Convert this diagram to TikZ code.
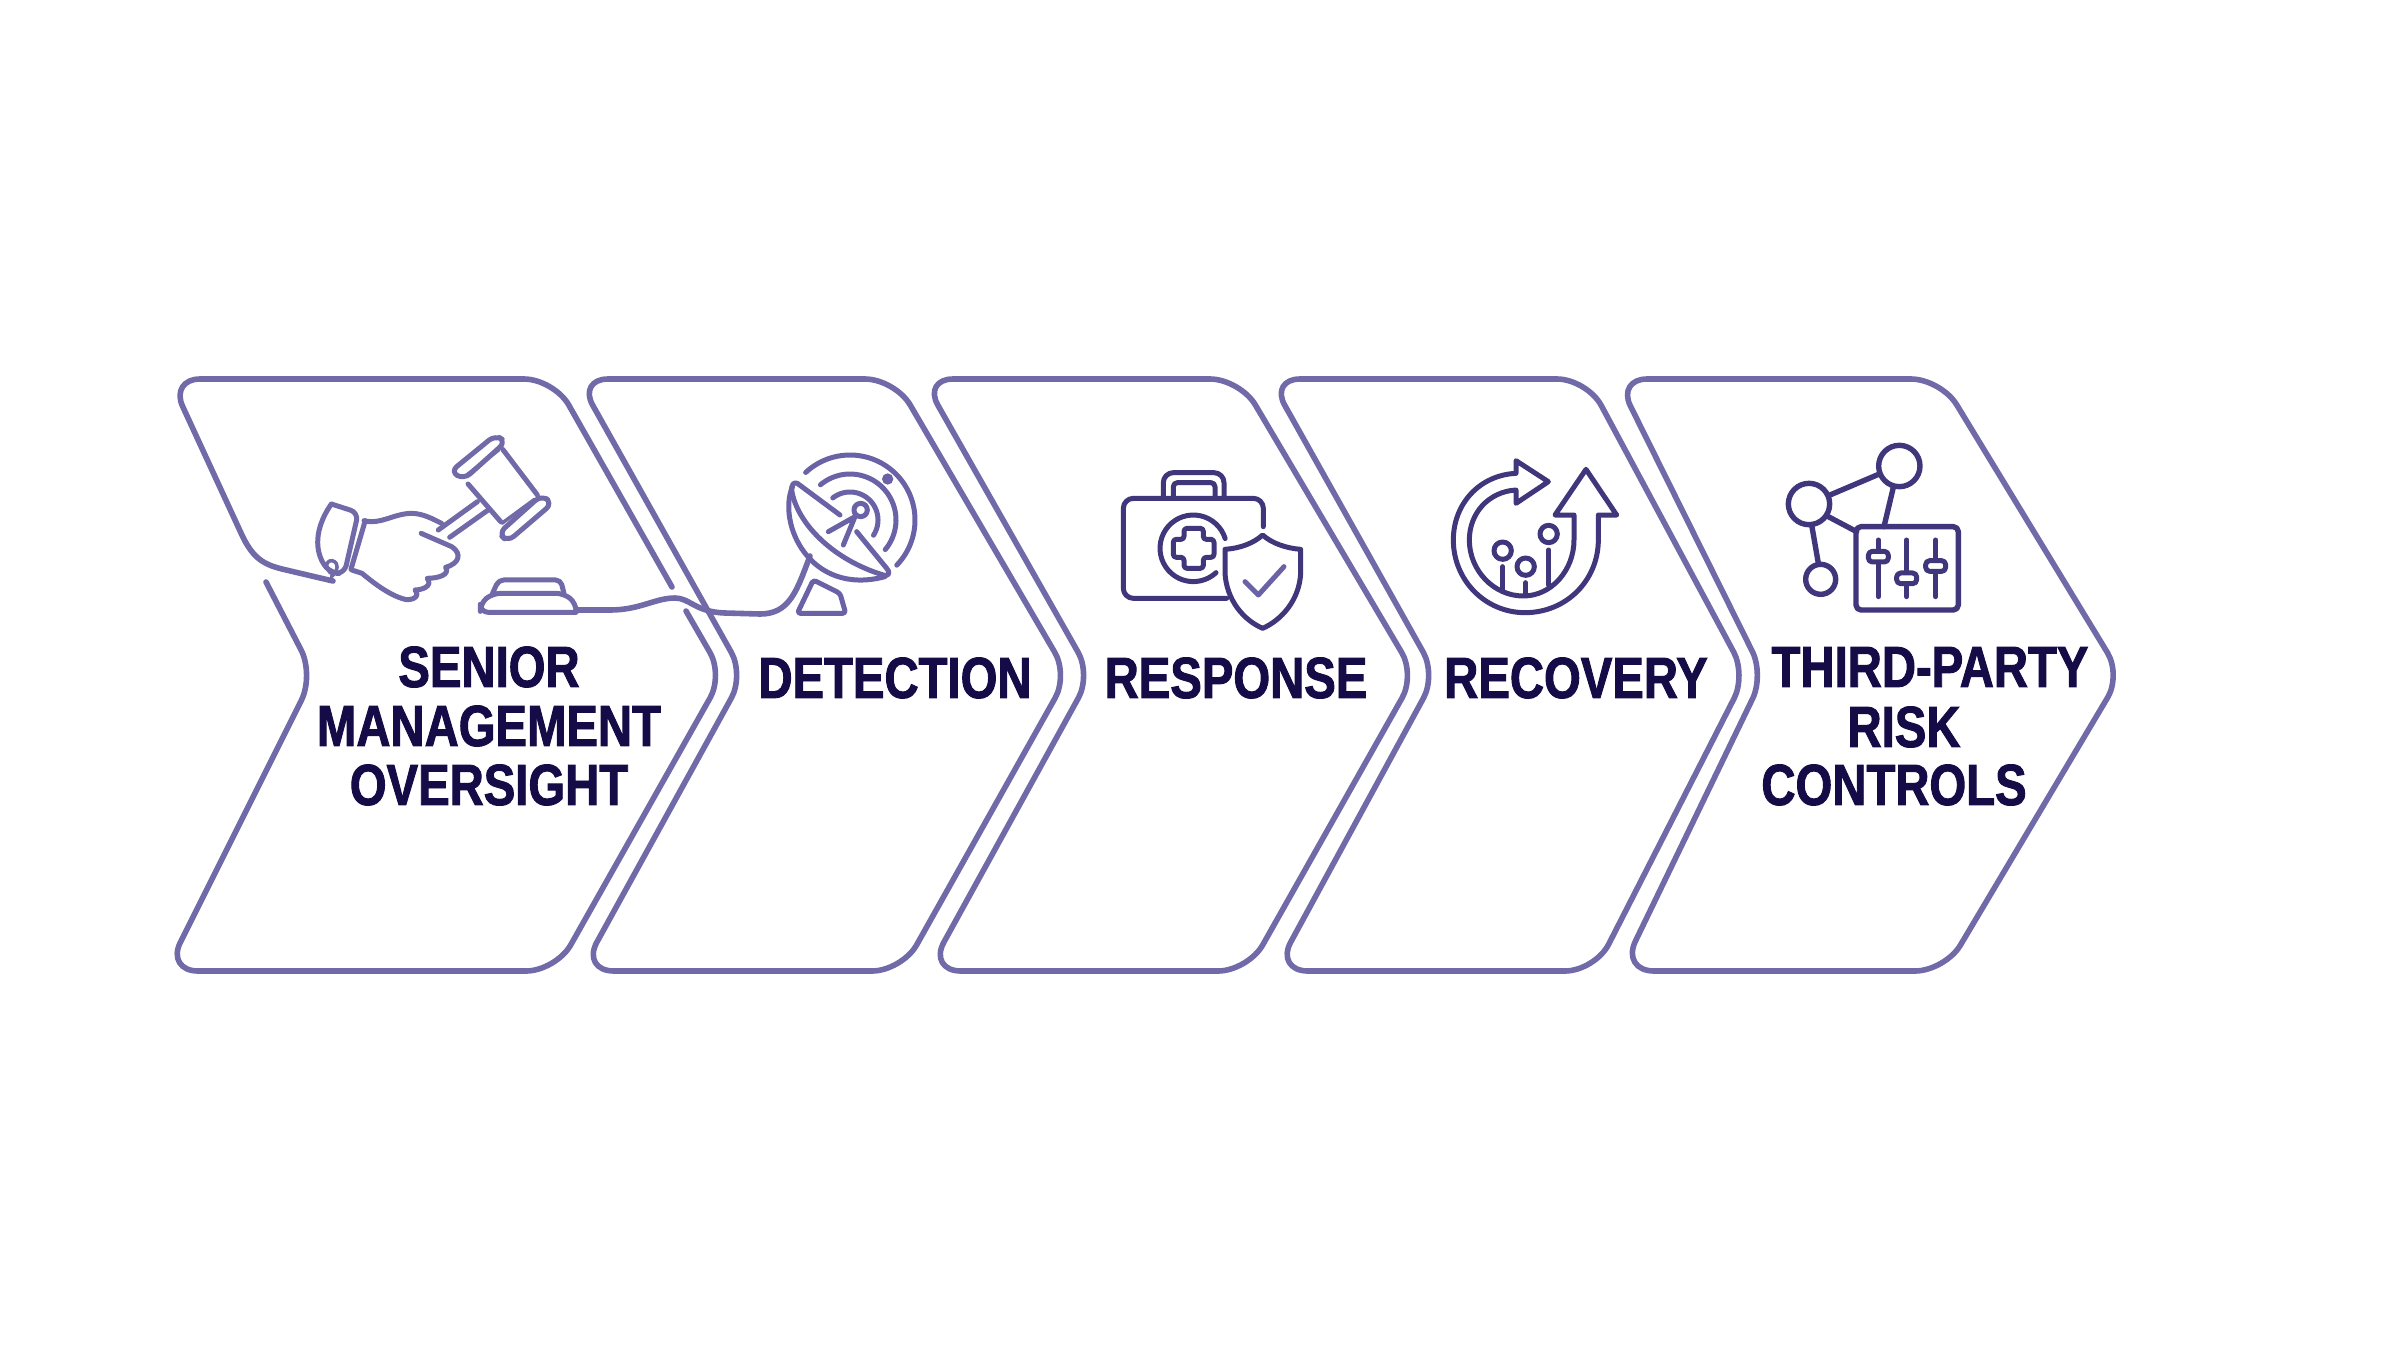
\documentclass[tikz,border=0pt]{standalone}
\usepackage{fontspec}
\newfontfamily\lblfont[FakeStretch=0.815,FakeBold=1.6]{Liberation Sans Bold}
\definecolor{edgecol}{HTML}{716AA8}
\definecolor{darkicon}{HTML}{40367C}
\definecolor{lighticon}{HTML}{6A62A6}
\definecolor{txtcol}{HTML}{150B47}
\tikzset{
  chev/.style={draw=edgecol,line width=5.6pt,line cap=round,line join=round},
  ico/.style={draw=darkicon,line width=5pt,line cap=round,line join=round},
  ico2/.style={draw=lighticon,line width=5pt,line cap=round,line join=round},
  lbl/.style={inner sep=0pt,text=txtcol,font=\lblfont\fontsize{58pt}{59pt}\selectfont,align=center},
  zg/.style={shift={(160,360)},x=0.408pt,y=-0.3333pt},
}
\newcommand{\zarc}[6][ico]{\draw[#1] plot[domain=#5:#6,samples=40,smooth] ({#2+#4*cos(\x)},{#3+#4*sin(\x)});}
\newcommand{\chevron}[6]{%
  \draw[chev] (#1+70,379) [rounded corners=30pt] -- (#2,379) [rounded corners=26pt] -- (#3,675) [rounded corners=30pt] -- (#4,971) [rounded corners=33pt] -- (#5,971) [rounded corners=26pt] -- (#6,675) [rounded corners=30pt] -- (#1,379) -- cycle;}
\begin{document}
\begin{tikzpicture}[x=1pt,y=-1pt]
\useasboundingbox (0,0) rectangle (2400,1350);
% first chevron, open where the wire passes
\draw[chev] (266,582) [rounded corners=28pt] -- (314,675) [rounded corners=32pt] -- (166,971) [rounded corners=30pt] -- (556,971) [rounded corners=26pt] -- (723,675) [sharp corners] -- (686,611);
\draw[chev] (672,587) [rounded corners=30pt] -- (554,379) [rounded corners=30pt] -- (170,379) [sharp corners] -- (241,533) .. controls (252,557) and (262,564) .. (282,569) -- (333,581);
% wire from gavel base to dish
\draw[chev] (576,610) -- (610,610) .. controls (640,610) and (655,598) .. (675,598) .. controls (690,598) and (695,612) .. (725,613) -- (760,614) .. controls (790,614) and (797,590) .. (810,556);
% other chevrons: topL, topR, tip, botR, botL, notch
\chevron{578}{895}{1068}{902}{581}{744}
\chevron{923}{1240}{1415}{1248}{928}{1091}
\chevron{1270}{1587}{1746}{1595}{1275}{1436}
\chevron{1617}{1941}{2121}{1945}{1621}{1764}
% gavel
\begin{scope}[zg]
\draw[chev,line width=5pt,rounded corners=8pt] (712,335) -- (822,225) -- (848,245) -- (745,358) -- cycle;
\draw[chev,line width=3.5pt] (752,345) -- (830,270);
\draw[chev,line width=5pt] (755,372) -- (835,485) (840,268) -- (925,405);
\draw[chev,line width=3.5pt] (838,490) -- (918,418);
\draw[chev,line width=5pt,rounded corners=8pt] (830,520) -- (935,405) -- (962,430) -- (852,545) -- cycle;
\draw[chev,line width=5pt] (778,425) -- (682,510) (802,452) -- (710,532);
\draw[chev,line width=5pt] (500,482) .. controls (540,495) and (570,462) .. (615,460) .. controls (645,460) and (670,478) .. (690,490);
\draw[chev,line width=5pt] (640,520) -- (715,560) .. controls (740,580) and (735,610) .. (700,622) .. controls (712,645) and (680,655) .. (655,655) .. controls (670,680) and (640,690) .. (625,690) .. controls (640,712) and (615,722) .. (600,718) .. controls (560,705) and (520,665) .. (495,640) -- (470,630);
\draw[chev,line width=5pt,rounded corners=8pt] (420,432) -- (486,458) -- (452,640) -- (420,640) .. controls (385,590) and (370,520) .. (420,432);
\draw[chev,line width=5pt] (503,482) -- (468,628);
\draw[chev,line width=3.5pt] (418,640) .. controls (395,610) and (420,590) .. (432,610) .. controls (438,625) and (430,640) .. (420,650);
\draw[chev,line width=5pt,rounded corners=8pt] (1020,757) -- (785,757) -- (785,730) -- (815,700) -- (990,700) -- (1020,730) -- (1020,757);
\draw[chev,line width=5pt,rounded corners=5pt] (815,700) -- (830,660) -- (982,660) -- (990,700);
\end{scope}
% dish
\begin{scope}[shift={(700,400)},x=0.3333pt,y=-0.3333pt]
\draw[ico2] (420,345) -- (292,250) .. controls (280,245) and (275,255) .. (275,270) .. controls (290,370) and (400,480) .. (550,525) .. controls (570,530) and (570,515) .. (560,505) -- (470,395);
\draw[ico2] (278,258) .. controls (230,370) and (330,590) .. (555,530);
\draw[ico2] (465,350) -- (385,395) (465,350) -- (430,435);
\draw[ico2] (482,330) circle (20);
\draw[ico2,rounded corners=3pt] (340,540) -- (420,580) -- (437,640) -- (292,640) -- cycle;
\fill[lighticon] (563,237) circle (17);
\end{scope}
\zarc[ico2]{850}{520}{65}{-133}{44}
\zarc[ico2]{850}{520}{46}{-130}{40}
\zarc[ico2]{850}{520}{28}{-128}{33}
% first-aid case and shield
\begin{scope}[shift={(1090,450)},x=0.3333pt,y=-0.3333pt]
\draw[ico,rounded corners=10pt] (520,230) -- (520,145) -- (100,145) -- (100,445) -- (410,445);
\draw[ico,rounded corners=10pt] (220,140) -- (220,68) -- (402,68) -- (402,140);
\draw[ico,rounded corners=4pt] (250,140) -- (250,98) -- (375,98) -- (375,140);
\draw[ico,rounded corners=3pt] (282,235) -- (340,235) -- (340,268) -- (372,268) -- (372,322) -- (340,322) -- (340,355) -- (282,355) -- (282,322) -- (250,322) -- (250,268) -- (282,268) -- cycle;
\draw[ico] (518,255) .. controls (490,280) and (450,295) .. (405,298) -- (405,370) .. controls (410,450) and (460,510) .. (518,535) .. controls (575,510) and (628,450) .. (632,370) -- (632,298) .. controls (590,295) and (545,280) .. (518,255) -- cycle;
\draw[ico2] (465,395) -- (505,435) -- (582,350);
\end{scope}
\zarc{1193.3}{548.3}{33.3}{-17}{-313}
% recovery
\begin{scope}[shift={(1430,440)},x=0.3333pt,y=-0.3333pt]
\draw[ico] (258,100) .. controls (150,105) and (70,190) .. (70,300) .. controls (70,420) and (165,518) .. (285,518) .. controls (410,518) and (505,420) .. (505,300) -- (505,225) -- (560,225) -- (468,88) -- (375,225) -- (432,225) -- (432,300) .. controls (432,390) and (365,468) .. (280,468) .. controls (190,468) and (118,390) .. (118,300) .. controls (118,220) and (175,155) .. (258,150) -- (258,190) -- (355,125) -- (258,62) -- cycle;
\draw[ico] (218,332) circle (26) (287,380) circle (26) (356,282) circle (26);
\draw[ico] (218,380) -- (218,450) (287,428) -- (287,465) (356,330) -- (356,435);
\end{scope}
% third-party network
\begin{scope}[shift={(1760,430)},x=0.3333pt,y=-0.3333pt]
\draw[ico,line width=5.4pt] (418,108) circle (62) (147,222) circle (62) (182,448) circle (45);
\draw[ico,line width=5.4pt] (210,195) -- (358,132) (400,172) -- (372,290) (205,260) -- (290,305) (155,285) -- (175,400);
\draw[ico,line width=5.4pt,rounded corners=5pt] (288,290) rectangle (595,540);
\draw[ico] (355,330) -- (355,500) (440,330) -- (440,500) (527,330) -- (527,500);
\draw[ico,fill=white,rounded corners=4pt] (325,364) rectangle (385,396);
\draw[ico,fill=white,rounded corners=4pt] (410,429) rectangle (470,461);
\draw[ico,fill=white,rounded corners=4pt] (497,392) rectangle (557,424);
\end{scope}
% labels
\node[lbl] (senior) at (489,726) {SENIOR\\MANAGEMENT\\OVERSIGHT};
\node[lbl] (detection) at (895,678) {DETECTION};
\node[lbl] (response) at (1236,678) {RESPONSE};
\node[lbl] (recovery) at (1576,678) {RECOVERY};
\node[lbl] (third) at (1930,667) {THIRD-PARTY};
\node[lbl] (risk) at (1904,727) {RISK};
\node[lbl] (controls) at (1894,785) {CONTROLS};
\end{tikzpicture}
\end{document}
